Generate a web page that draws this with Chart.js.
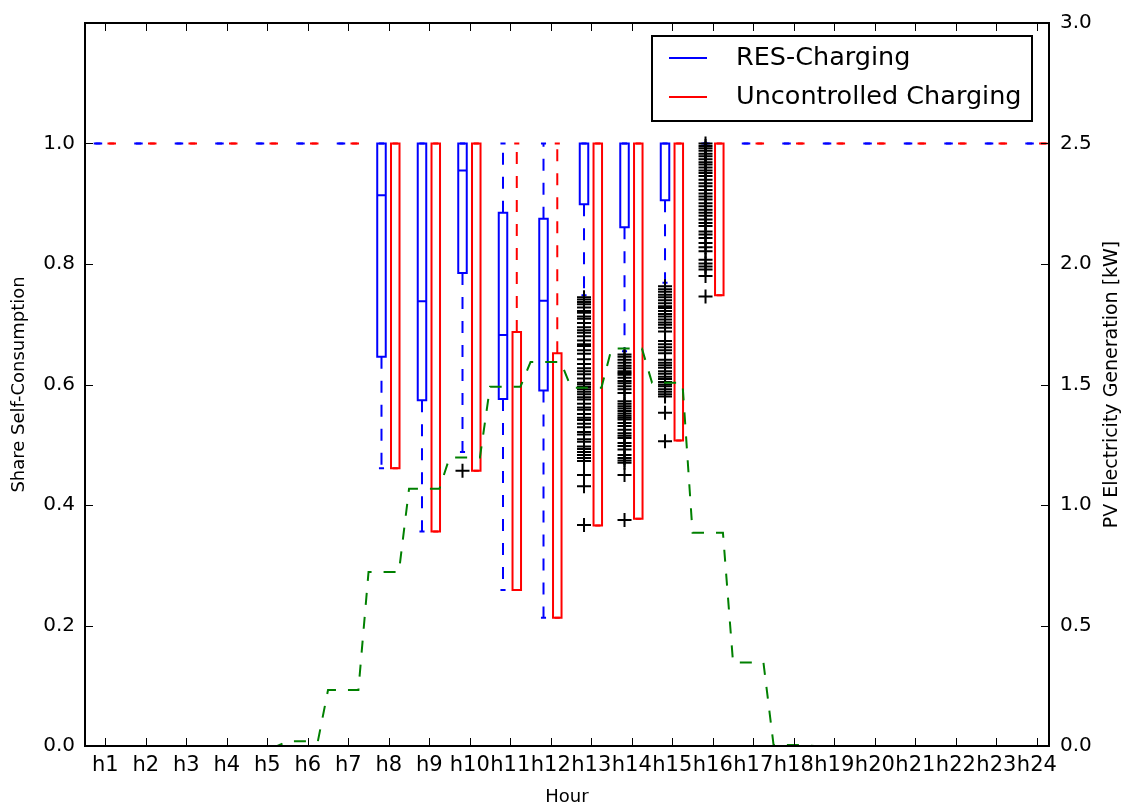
<!DOCTYPE html>
<html>
<head>
<meta charset="utf-8">
<script src="https://cdn.jsdelivr.net/npm/chart.js@4.4.1/dist/chart.umd.min.js"></script>
<style>
  html, body { margin: 0; padding: 0; background: #fff; }
  #wrap { width: 1127px; height: 810px; }
</style>
</head>
<body>
<div id="wrap"><canvas id="chart"></canvas></div>
<script>
// Hours of the day
const hourLabels = ['h1', 'h2', 'h3', 'h4', 'h5', 'h6', 'h7', 'h8', 'h9', 'h10', 'h11', 'h12',
  'h13', 'h14', 'h15', 'h16', 'h17', 'h18', 'h19', 'h20', 'h21', 'h22', 'h23', 'h24'];
const hourNums = [1, 2, 3, 4, 5, 6, 7, 8, 9, 10, 11, 12, 13, 14, 15, 16, 17, 18, 19, 20, 21, 22, 23, 24];

const shareTicks = [0.0, 0.2, 0.4, 0.6, 0.8, 1.0];
const pvTicks = [0.0, 0.5, 1.0, 1.5, 2.0, 2.5, 3.0];

// RES-Charging box stats per hour
const resMin = [1, 1, 1, 1, 1, 1, 1, 0.461, 0.356, 0.488, 0.259, 0.213, 0.748, 0.655, 0.769, 1, 1, 1, 1, 1, 1, 1, 1, 1];
const resQ1  = [1, 1, 1, 1, 1, 1, 1, 0.646, 0.574, 0.785, 0.576, 0.590, 0.899, 0.861, 0.906, 1, 1, 1, 1, 1, 1, 1, 1, 1];
const resMed = [1, 1, 1, 1, 1, 1, 1, 0.914, 0.738, 0.955, 0.682, 0.739, 1, 1, 1, 1, 1, 1, 1, 1, 1, 1, 1, 1];
const resQ3  = [1, 1, 1, 1, 1, 1, 1, 1, 1, 1, 0.885, 0.875, 1, 1, 1, 1, 1, 1, 1, 1, 1, 1, 1, 1];
const resMax = [1, 1, 1, 1, 1, 1, 1, 1, 1, 1, 1, 1, 1, 1, 1, 1, 1, 1, 1, 1, 1, 1, 1, 1];

// Uncontrolled Charging box stats per hour
const uncMin = [1, 1, 1, 1, 1, 1, 1, 0.461, 0.356, 0.457, 0.259, 0.213, 0.366, 0.377, 0.507, 0.748, 1, 1, 1, 1, 1, 1, 1, 1];
const uncQ1  = [1, 1, 1, 1, 1, 1, 1, 0.461, 0.356, 0.457, 0.259, 0.213, 0.366, 0.377, 0.507, 0.748, 1, 1, 1, 1, 1, 1, 1, 1];
const uncMed = [1, 1, 1, 1, 1, 1, 1, 1, 1, 1, 0.259, 0.213, 1, 1, 1, 1, 1, 1, 1, 1, 1, 1, 1, 1];
const uncQ3  = [1, 1, 1, 1, 1, 1, 1, 1, 1, 1, 0.687, 0.652, 1, 1, 1, 1, 1, 1, 1, 1, 1, 1, 1, 1];
const uncMax = [1, 1, 1, 1, 1, 1, 1, 1, 1, 1, 1, 1, 1, 1, 1, 1, 1, 1, 1, 1, 1, 1, 1, 1];

// RES-Charging outliers (fliers)
const resOutH10 = [0.457];
const resOutH13 = [0.745, 0.741, 0.737, 0.733, 0.728, 0.722, 0.719, 0.713, 0.709, 0.702, 0.695, 0.690,
  0.686, 0.680, 0.673, 0.667, 0.664, 0.657, 0.651, 0.642, 0.634, 0.627, 0.622, 0.617, 0.610, 0.603,
  0.600, 0.596, 0.592, 0.588, 0.584, 0.579, 0.575, 0.568, 0.562, 0.558, 0.551, 0.545, 0.541, 0.535,
  0.529, 0.521, 0.517, 0.509, 0.505, 0.497, 0.493, 0.488, 0.483, 0.478, 0.473, 0.450, 0.431, 0.367];
const resOutH14 = [0.650, 0.646, 0.641, 0.636, 0.631, 0.627, 0.622, 0.619, 0.616, 0.611, 0.606, 0.602,
  0.597, 0.592, 0.586, 0.572, 0.568, 0.564, 0.560, 0.556, 0.552, 0.548, 0.545, 0.542, 0.536, 0.531,
  0.525, 0.519, 0.515, 0.511, 0.503, 0.498, 0.492, 0.483, 0.478, 0.474, 0.470, 0.450, 0.375];
const resOutH15 = [0.763, 0.758, 0.754, 0.749, 0.745, 0.740, 0.735, 0.730, 0.727, 0.722, 0.717, 0.713,
  0.708, 0.703, 0.699, 0.694, 0.688, 0.672, 0.667, 0.662, 0.657, 0.652, 0.641, 0.636, 0.632, 0.628,
  0.622, 0.618, 0.613, 0.609, 0.604, 0.600, 0.597, 0.592, 0.588, 0.584, 0.580, 0.553, 0.506];
const resOutH16 = [1.0, 0.996, 0.992, 0.988, 0.983, 0.979, 0.974, 0.969, 0.965, 0.960, 0.955, 0.951,
  0.946, 0.940, 0.934, 0.929, 0.923, 0.917, 0.912, 0.907, 0.901, 0.896, 0.890, 0.885, 0.880, 0.874,
  0.868, 0.863, 0.854, 0.849, 0.843, 0.835, 0.828, 0.821, 0.807, 0.801, 0.796, 0.791, 0.780, 0.746];

// PV generation per hour [kW]
const pvValues = [null, null, null, null, 0, 0.02, 0.232, 0.722, 1.067, 1.197, 1.491, 1.593,
  1.487, 1.649, 1.507, 0.885, 0.346, 0.004, 0, null, null, null, null, null];

const BLUE = '#0000ff', RED = '#ff0000', GREEN = '#008000';
const RES_OFFSET = -0.18, UNC_OFFSET = 0.16, BOX_W = 0.21;
const FONT = 'DejaVu Sans';

Chart.defaults.font.family = FONT;
Chart.defaults.color = '#000';

// outlier points sit on the RES box position
const outlierPoints = [];
[[10, resOutH10], [13, resOutH13], [14, resOutH14], [15, resOutH15], [16, resOutH16]].forEach(([h, vals]) => {
  vals.forEach(v => outlierPoints.push({ x: h + RES_OFFSET, y: v }));
});

// hourly PV held over the hour, ramping in the last quarter
const pvPoints = [];
hourNums.forEach((h, i) => {
  if (pvValues[i] === null) return;
  pvPoints.push({ x: h - 0.5, y: pvValues[i] });
  pvPoints.push({ x: h + 0.25, y: pvValues[i] });
});

const boxSeries = [
  { color: BLUE, offset: RES_OFFSET, min: resMin, q1: resQ1, med: resMed, q3: resQ3, max: resMax },
  { color: RED, offset: UNC_OFFSET, min: uncMin, q1: uncQ1, med: uncMed, q3: uncQ3, max: uncMax }
];

const boxPlotPlugin = {
  id: 'boxPlot',
  beforeDatasetsDraw(chart) {
    const ctx = chart.ctx;
    const xs = chart.scales.x, ys = chart.scales.y;
    ctx.save();
    ctx.lineWidth = 2;
    boxSeries.forEach(s => {
      ctx.strokeStyle = s.color;
      hourNums.forEach((h, i) => {
        const cx = xs.getPixelForValue(h + s.offset);
        const half = xs.getPixelForValue(h + s.offset + BOX_W / 2) - cx;
        const capHalf = half * 0.6;
        const pMin = ys.getPixelForValue(s.min[i]);
        const pQ1 = ys.getPixelForValue(s.q1[i]);
        const pMed = ys.getPixelForValue(s.med[i]);
        const pQ3 = ys.getPixelForValue(s.q3[i]);
        const pMax = ys.getPixelForValue(s.max[i]);
        // whiskers
        ctx.setLineDash([12, 12]);
        ctx.beginPath();
        if (s.q1[i] > s.min[i]) { ctx.moveTo(cx, pQ1); ctx.lineTo(cx, pMin); }
        if (s.max[i] > s.q3[i]) { ctx.moveTo(cx, pQ3); ctx.lineTo(cx, pMax); }
        ctx.stroke();
        ctx.setLineDash([]);
        // caps
        ctx.beginPath();
        ctx.moveTo(cx - capHalf, pMin); ctx.lineTo(cx + capHalf, pMin);
        ctx.moveTo(cx - capHalf, pMax); ctx.lineTo(cx + capHalf, pMax);
        ctx.stroke();
        // box + median
        ctx.beginPath();
        ctx.rect(cx - half, pQ3, half * 2, pQ1 - pQ3);
        ctx.moveTo(cx - half, pMed); ctx.lineTo(cx + half, pMed);
        ctx.stroke();
      });
    });
    ctx.restore();
  },
  afterDraw(chart) {
    const ctx = chart.ctx;
    const { left, right, top, bottom } = chart.chartArea;
    ctx.save();
    // inward tick marks
    ctx.strokeStyle = '#000';
    ctx.lineWidth = 1;
    ctx.beginPath();
    chart.scales.x.ticks.forEach(t => {
      const px = Math.round(chart.scales.x.getPixelForValue(t.value)) + 0.5;
      ctx.moveTo(px, bottom); ctx.lineTo(px, bottom - 8);
      ctx.moveTo(px, top); ctx.lineTo(px, top + 8);
    });
    chart.scales.y.ticks.forEach(t => {
      const py = Math.round(chart.scales.y.getPixelForValue(t.value)) + 0.5;
      ctx.moveTo(left, py); ctx.lineTo(left + 8, py);
    });
    chart.scales.y2.ticks.forEach(t => {
      const py = Math.round(chart.scales.y2.getPixelForValue(t.value)) + 0.5;
      ctx.moveTo(right, py); ctx.lineTo(right - 8, py);
    });
    ctx.stroke();
    // frame
    ctx.lineWidth = 2;
    ctx.strokeRect(left, top, right - left, bottom - top);

    // right axis title, reading bottom to top
    ctx.save();
    ctx.translate(right + 63, (top + bottom) / 2);
    ctx.rotate(-Math.PI / 2);
    ctx.font = '19px ' + FONT;
    ctx.fillStyle = '#000';
    ctx.textAlign = 'center';
    ctx.textBaseline = 'middle';
    ctx.fillText('PV Electricity Generation [kW]', 0, 0);
    ctx.restore();

    // legend
    const lx = right - 397, ly = top + 13, lw = 380, lh = 85;
    ctx.fillStyle = '#fff';
    ctx.fillRect(lx, ly, lw, lh);
    ctx.strokeRect(lx, ly, lw, lh);
    const items = [['RES-Charging', BLUE], ['Uncontrolled Charging', RED]];
    ctx.font = '25.5px ' + FONT;
    ctx.textBaseline = 'middle';
    ctx.textAlign = 'left';
    items.forEach(([label, color], k) => {
      const yy = ly + 22 + k * 39;
      ctx.strokeStyle = color;
      ctx.beginPath();
      ctx.moveTo(lx + 17, yy); ctx.lineTo(lx + 55, yy);
      ctx.stroke();
      ctx.fillStyle = '#000';
      ctx.fillText(label, lx + 84, yy);
    });
    ctx.restore();
  }
};

new Chart(document.getElementById('chart'), {
  type: 'scatter',
  data: {
    datasets: [
      {
        label: 'PV Electricity Generation',
        data: pvPoints,
        yAxisID: 'y2',
        showLine: true,
        borderColor: GREEN,
        borderWidth: 2,
        borderDash: [12, 12],
        pointRadius: 0,
        tension: 0
      },
      {
        label: 'Outliers',
        data: outlierPoints,
        yAxisID: 'y',
        pointStyle: 'cross',
        pointRadius: 7,
        borderColor: '#000',
        backgroundColor: '#000',
        borderWidth: 2
      }
    ]
  },
  options: {
    responsive: true,
    maintainAspectRatio: false,
    animation: false,
    layout: { padding: { top: 22, left: 0, right: 0, bottom: 0 } },
    plugins: { legend: { display: false }, tooltip: { enabled: false } },
    scales: {
      x: {
        type: 'linear', position: 'bottom', min: 0.5, max: 24.3,
        grid: { display: false, drawTicks: false }, border: { display: false },
        afterBuildTicks: s => { s.ticks = hourNums.map(v => ({ value: v })); },
        afterFit: s => { s.height = 64; },
        ticks: { callback: (v, i) => hourLabels[i], padding: 7, autoSkip: false, maxRotation: 0, minRotation: 0, font: { size: 21 } },
        title: { display: true, text: 'Hour', font: { size: 18 }, padding: { top: 0, bottom: 2 } }
      },
      y: {
        type: 'linear', position: 'left', min: 0, max: 1.2,
        grid: { display: false, drawTicks: false }, border: { display: false },
        afterBuildTicks: s => { s.ticks = shareTicks.map(v => ({ value: v })); },
        afterFit: s => { s.width = 85; },
        ticks: { callback: v => v.toFixed(1), padding: 10, font: { size: 20 } },
        title: { display: true, text: 'Share Self-Consumption', font: { size: 18 }, padding: { top: 9, bottom: 0 } }
      },
      y2: {
        type: 'linear', position: 'right', min: 0, max: 3.0,
        grid: { display: false, drawTicks: false }, border: { display: false },
        afterBuildTicks: s => { s.ticks = pvTicks.map(v => ({ value: v })); },
        afterFit: s => { s.width = 78; },
        ticks: { callback: v => v.toFixed(1), padding: 11, font: { size: 20 } }
      }
    }
  },
  plugins: [boxPlotPlugin]
});
</script>
</body>
</html>
